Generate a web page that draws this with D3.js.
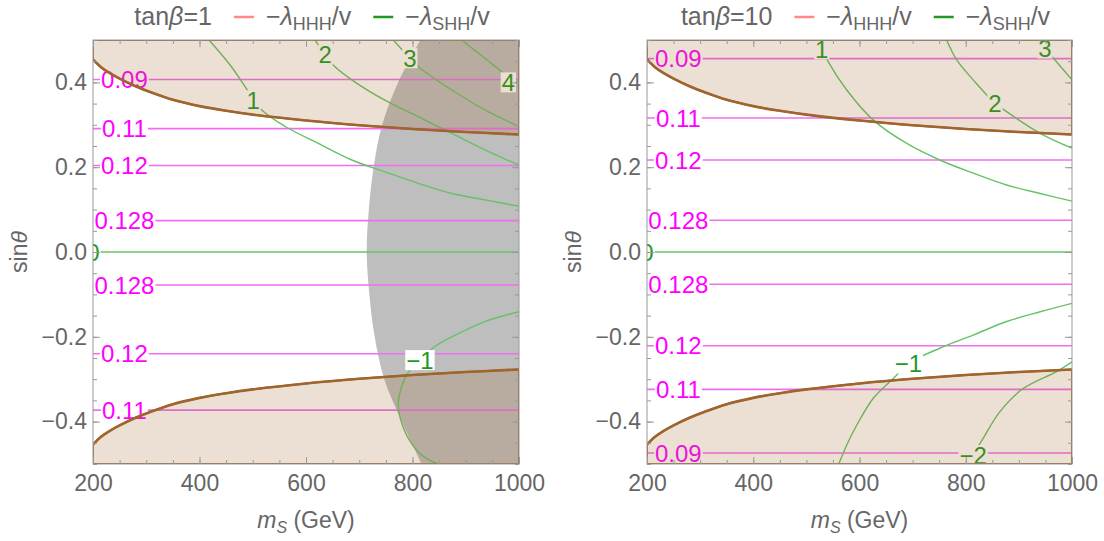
<!DOCTYPE html>
<html>
<head>
<meta charset="utf-8">
<script src="https://cdn.jsdelivr.net/npm/d3@7"></script>
<style>
body{margin:0;background:#fff;}
text{font-family:"Liberation Sans",Arial,sans-serif;}
</style>
</head>
<body>
<script>
// axis ticks
var msTicks = [200,400,600,800,1000];
var sinTicks = [-0.4,-0.2,0,0.2,0.4];
var tanBeta = ["1","10"];

// brown exclusion boundary, |sin theta| limit vs m_S (same for both panels, mirrored below 0)
var boundMs  = [200,215,230,250,280,310,350,400,450,500,600,700,800,900,1000];
var boundSin = [0.454,0.436,0.423,0.409,0.391,0.376,0.359,0.344,0.333,0.324,0.310,0.299,0.290,0.283,0.277];

// grey excluded region (tan beta = 1 only), left edge m_S vs sin theta
var graySin = [-0.5,-0.4,-0.3,-0.2,-0.1,0,0.1,0.2,0.3,0.4,0.5];
var grayMs  = [817,780,747,729,719,714,718,727,743,773,815];

// -lambda_HHH/v contours (horizontal), labels and sin theta
var hhhLab1  = ["0.09","0.11","0.12","0.128","0.128","0.12","0.11"];
var hhhSin1  = [0.407,0.291,0.204,0.074,-0.078,-0.240,-0.373];
var hhhLab10 = ["0.09","0.11","0.12","0.128","0.128","0.12","0.11","0.09"];
var hhhSin10 = [0.456,0.316,0.217,0.075,-0.076,-0.221,-0.324,-0.474];
var hhhLabelMs = 259;

// -lambda_SHH/v contours, tan beta = 1
var shhMs1 = [
  [418,460,492,517,561,623,686,748,811,874,936,1000],
  [617,636,651,686,748,811,874,936,1000],
  [764,795,811,874,936,1000],
  [892,936,968,1000],
  [200,1000],
  [1000,936,874,842,814,789,777,773,777,792,817,848]
];
var shhSin1 = [
  [0.5,0.437,0.378,0.335,0.296,0.256,0.217,0.189,0.162,0.138,0.123,0.108],
  [0.5,0.465,0.441,0.406,0.358,0.319,0.280,0.241,0.205],
  [0.5,0.457,0.437,0.382,0.335,0.296],
  [0.5,0.457,0.425,0.398],
  [0,0],
  [-0.141,-0.164,-0.200,-0.223,-0.255,-0.290,-0.329,-0.361,-0.392,-0.439,-0.479,-0.5]
];
var shhLab1   = ["1","2","3","4","0","\u22121"];
var shhLabMs1 = [501,636,795,980,200,814];
var shhLabSin1 = [0.358,0.465,0.457,0.400,0,-0.255];

// -lambda_SHH/v contours, tan beta = 10
var shhMs10 = [
  [527,533,541,576,626,689,751,814,877,940,1000],
  [764,783,814,855,877,940,1000],
  [940,949,968,1000],
  [200,1000],
  [1000,940,877,814,751,692,664,626,595,576,561],
  [1000,971,908,864,833,814,805]
];
var shhSin10 = [
  [0.5,0.47,0.449,0.382,0.311,0.256,0.217,0.186,0.158,0.138,0.120],
  [0.5,0.453,0.406,0.351,0.331,0.280,0.245],
  [0.5,0.48,0.453,0.406],
  [0,0],
  [-0.121,-0.141,-0.164,-0.196,-0.227,-0.263,-0.298,-0.345,-0.408,-0.455,-0.5],
  [-0.259,-0.282,-0.322,-0.377,-0.439,-0.479,-0.5]
];
var shhLab10   = ["1","2","3","0","\u22121","\u22122"];
var shhLabMs10 = [529,855,949,200,692,814];
var shhLabSin10 = [0.478,0.351,0.480,0,-0.263,-0.479];

var W = 1104, H = 541;
var plotTop = 40, ph = 424;
var fontSize = 23;
var labelSize = 24;
var legendSize = 25;
var grey = "#666";

var panels = [
  {left:93, width:426, tb:tanBeta[0], hhhLab:hhhLab1, hhhSin:hhhSin1,
   shhMs:shhMs1, shhSin:shhSin1, shhLab:shhLab1, shhLabMs:shhLabMs1, shhLabSin:shhLabSin1, gray:true},
  {left:647, width:425, tb:tanBeta[1], hhhLab:hhhLab10, hhhSin:hhhSin10,
   shhMs:shhMs10, shhSin:shhSin10, shhLab:shhLab10, shhLabMs:shhLabMs10, shhLabSin:shhLabSin10, gray:false}
];

var svg = d3.select("body").append("svg").attr("width",W).attr("height",H);

function addLabel(parent, txt, px, py, color) {
  var lg = parent.append("g");
  var t = lg.append("text")
    .attr("x",px).attr("y",py).attr("dy","0.36em")
    .attr("text-anchor","middle")
    .attr("font-size",labelSize)
    .attr("fill",color)
    .text(txt);
  var b = t.node().getBBox();
  lg.insert("rect","text")
    .attr("x",b.x-1).attr("y",py-10)
    .attr("width",b.width+2).attr("height",20)
    .attr("fill","#fff");
}

panels.forEach(function(p,i){
  var x = d3.scaleLinear().domain([200,1000]).range([0,p.width]);
  var y = d3.scaleLinear().domain([-0.5,0.5]).range([ph,0]);
  var g = svg.append("g").attr("transform","translate("+p.left+","+plotTop+")");

  g.append("clipPath").attr("id","clip"+i)
    .append("rect").attr("width",p.width).attr("height",ph);
  var plot = g.append("g").attr("clip-path","url(#clip"+i+")");

  // grey region
  if (p.gray) {
    var grayArea = d3.area()
      .y(function(d,j){ return y(graySin[j]); })
      .x0(function(d){ return x(d); })
      .x1(x(1000) + 2)
      .curve(d3.curveCatmullRom);
    plot.append("path").attr("d",grayArea(grayMs)).attr("fill","#bebebe");
  }

  // -lambda_HHH/v lines
  plot.selectAll(".hhh").data(p.hhhSin).join("line")
    .attr("class","hhh")
    .attr("x1",0).attr("x2",p.width)
    .attr("y1",function(d){ return y(d); }).attr("y2",function(d){ return y(d); })
    .attr("stroke","#f06ef0").attr("stroke-width",1.6);

  // -lambda_SHH/v lines
  var line = d3.line()
    .x(function(d){ return x(d[0]); })
    .y(function(d){ return y(d[1]); })
    .curve(d3.curveCatmullRom.alpha(0.5));
  p.shhMs.forEach(function(ms,j){
    var pts = ms.map(function(m,k){ return [m, p.shhSin[j][k]]; });
    plot.append("path").attr("d",line(pts))
      .attr("fill","none").attr("stroke","#66c266").attr("stroke-width",1.4);
  });

  // labels
  p.hhhSin.forEach(function(s,j){
    addLabel(plot, p.hhhLab[j], x(hhhLabelMs), y(s), "#ff00ff");
  });
  p.shhLab.forEach(function(l,j){
    addLabel(plot, l, x(p.shhLabMs[j]), y(p.shhLabSin[j]), "#1f9a1f");
  });

  // tan excluded regions
  var upper = d3.area()
    .x(function(d){ return x(d); })
    .y0(y(0.5))
    .y1(function(d,j){ return y(boundSin[j]); })
    .curve(d3.curveCatmullRom);
  var lower = d3.area()
    .x(function(d){ return x(d); })
    .y0(y(-0.5))
    .y1(function(d,j){ return y(-boundSin[j]); })
    .curve(d3.curveCatmullRom);
  [upper, lower].forEach(function(a){
    plot.append("path").attr("d",a(boundMs))
      .attr("fill","rgb(160,100,40)").attr("fill-opacity",0.2)
      .attr("stroke","#a0642d").attr("stroke-width",2);
  });
  var bline = d3.line()
    .x(function(d){ return x(d[0]); })
    .y(function(d){ return y(d[1]); })
    .curve(d3.curveCatmullRom);
  [1,-1].forEach(function(sgn){
    plot.append("path")
      .attr("d", bline(boundMs.map(function(m,k){ return [m, sgn*boundSin[k]]; })))
      .attr("fill","none").attr("stroke","#a0642d").attr("stroke-width",2.6);
  });

  // frame and ticks
  var minorX = d3.range(200,1001,50);
  var minorY = d3.range(-0.5,0.5001,0.05);
  var axes = [
    [d3.axisBottom(x), "translate(0,"+ph+")", msTicks, minorX, true, d3.format("d"), 11],
    [d3.axisTop(x), null, msTicks, minorX, false, null, 6],
    [d3.axisLeft(y), null, sinTicks, minorY, true, d3.format(".1f"), 6],
    [d3.axisRight(y), "translate("+p.width+",0)", sinTicks, minorY, false, null, 6]
  ];
  axes.forEach(function(a){
    var gMin = g.append("g").attr("transform",a[1]);
    gMin.call(a[0].tickValues(a[3]).tickSize(-4).tickFormat(""));
    gMin.select(".domain").remove();
    var gMaj = g.append("g").attr("transform",a[1]);
    gMaj.call(a[0].tickValues(a[2]).tickSize(-7).tickPadding(a[6])
      .tickFormat(a[4] ? a[5] : ""));
    gMaj.select(".domain").remove();
    g.selectAll(".tick line").attr("stroke","#999");
    gMaj.selectAll("text").attr("font-size",fontSize).attr("fill",grey)
      .attr("font-family","Liberation Sans, Arial, sans-serif");
  });
  g.append("rect").attr("width",p.width).attr("height",ph)
    .attr("fill","none").attr("stroke","#999").attr("stroke-width",1);

  // axis labels
  var xl = g.append("text").attr("x",p.width/2).attr("y",488).attr("text-anchor","middle")
    .attr("font-size",fontSize).attr("fill",grey);
  xl.append("tspan").attr("font-style","italic").text("m");
  xl.append("tspan").attr("font-style","italic").attr("font-size",16).attr("dy",5).text("S");
  xl.append("tspan").attr("dy",-5).text(" (GeV)");

  var yl = g.append("text")
    .attr("transform","translate("+(-66)+","+(ph/2)+") rotate(-90)")
    .attr("text-anchor","middle").attr("font-size",fontSize).attr("fill",grey);
  yl.append("tspan").text("sin");
  yl.append("tspan").attr("font-style","italic").text("\u03b8");

  // legend
  var lg = svg.append("g");
  var cx = 0;
  function legText(parts) {
    var t = lg.append("text").attr("x",cx).attr("y",25).attr("font-size",legendSize).attr("fill",grey);
    parts.forEach(function(pt){
      var s = t.append("tspan").text(pt[0]);
      if (pt[1]) s.attr("font-style","italic");
      if (pt[2]) s.attr("font-size",18);
      if (pt[3]) s.attr("dy",pt[3]);
    });
    cx += t.node().getComputedTextLength();
  }
  function legLine(col) {
    cx += 22;
    lg.append("line").attr("x1",cx).attr("x2",cx+20).attr("y1",17).attr("y2",17)
      .attr("stroke",col).attr("stroke-width",2.5);
    cx += 32;
  }
  legText([["tan"],["\u03b2",true],["="+p.tb]]);
  legLine("#ff8888");
  legText([["\u2212"],["\u03bb",true],["HHH",false,true,5],["/v",false,false,-5]]);
  legLine("#1f9a1f");
  legText([["\u2212"],["\u03bb",true],["SHH",false,true,5],["/v",false,false,-5]]);
  lg.attr("transform","translate("+(p.left + p.width/2 + 6 - cx/2)+",0)");
});
</script>
</body>
</html>
